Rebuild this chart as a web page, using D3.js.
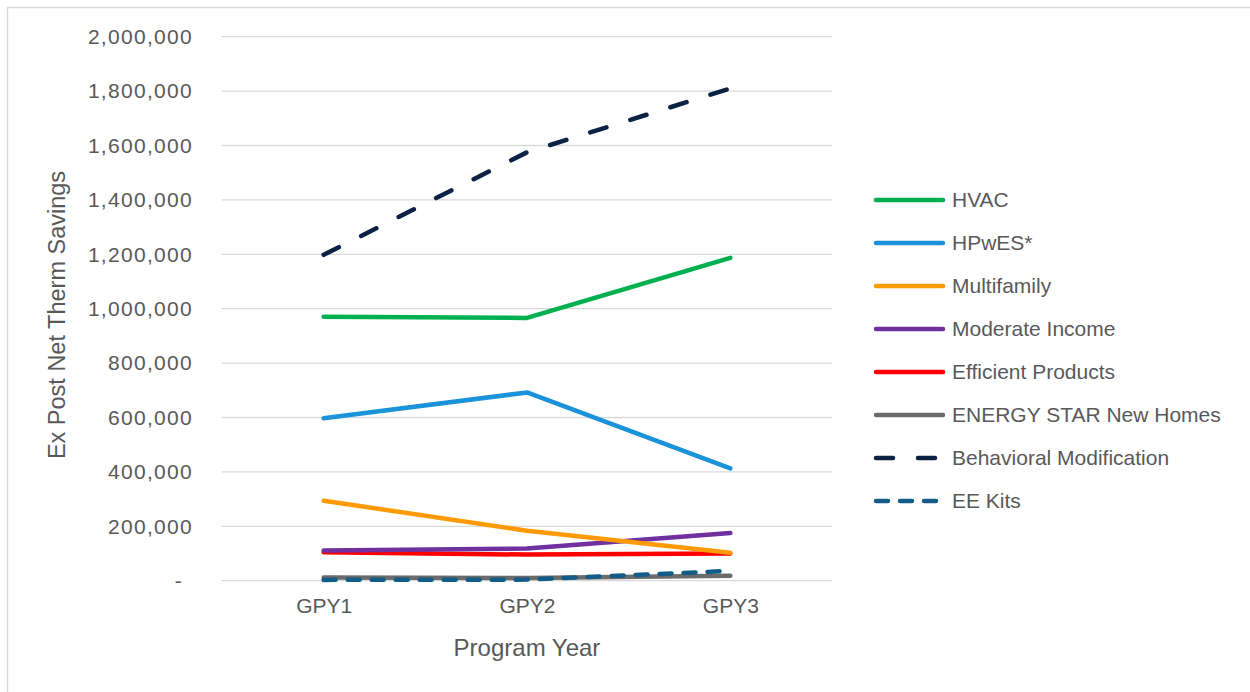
<!DOCTYPE html>
<html><head><meta charset="utf-8">
<script src="https://cdn.jsdelivr.net/npm/d3@7"></script>
<style>body{margin:0;background:#fff}svg{display:block}text{font-family:"Liberation Sans",Arial,sans-serif;fill:#595959}</style>
</head><body>
<svg id="c" width="1250" height="692"></svg>
<script>
const categories = ["GPY1", "GPY2", "GPY3"];
const seriesNames = ["HVAC", "HPwES*", "Multifamily", "Moderate Income", "Efficient Products", "ENERGY STAR New Homes", "Behavioral Modification", "EE Kits"];
const hvac = [970000, 966000, 1187000];
const hpwes = [597000, 692000, 413000];
const multifamily = [294000, 184000, 103000];
const moderateIncome = [111000, 118000, 175000];
const efficientProducts = [105000, 96000, 100000];
const energyStar = [12000, 10000, 18000];
const behavioral = [1198000, 1575000, 1810000];
const eeKits = [3000, 4000, 36000];
const yTicks = [0, 200000, 400000, 600000, 800000, 1000000, 1200000, 1400000, 1600000, 1800000, 2000000];

const colors = ["#00B050", "#1B93DA", "#FF9A00", "#7030A0", "#FF0000", "#6B6B6B", "#0B2245", "#135C88"];
const dashes = [null, null, null, null, null, null, "17,25", "12,12"];
const values = [hvac, hpwes, multifamily, moderateIncome, efficientProducts, energyStar, behavioral, eeKits];

const svg = d3.select("#c");
svg.append("path").attr("d", "M7.5,700V7.5H1260").attr("fill", "none").attr("stroke", "#D9D9D9").attr("stroke-width", 1.5);

const x = d3.scalePoint().domain(categories).range([222, 832]).padding(0.5);
const y = d3.scaleLinear().domain([0, 2000000]).range([580.7, 36.7]);

// gridlines
svg.append("g").selectAll("line").data(yTicks).join("line")
  .attr("x1", 222).attr("x2", 832)
  .attr("y1", d => y(d)).attr("y2", d => y(d))
  .attr("stroke", "#D9D9D9").attr("stroke-width", 1.3);

// y axis labels
const fmt = d3.format(",");
const yAxis = d3.axisLeft(y).tickValues(yTicks).tickSize(0).tickPadding(0)
  .tickFormat(d => d === 0 ? "-" : fmt(d));
const ga = svg.append("g").attr("transform", "translate(193,0)").call(yAxis);
ga.select(".domain").remove();
ga.selectAll("text").attr("font-size", 21).attr("fill", "#595959")
  .style("font-family", '"Liberation Sans",Arial,sans-serif')
  .attr("letter-spacing", 1.3)
  .attr("dx", d => d === 0 ? -10 : 0);

// x axis labels
const xAxis = d3.axisBottom(x).tickSize(0).tickPadding(0);
const gx = svg.append("g").attr("transform", "translate(0,598)").call(xAxis);
gx.select(".domain").remove();
gx.selectAll("text").attr("font-size", 21).attr("fill", "#595959")
  .style("font-family", '"Liberation Sans",Arial,sans-serif').attr("dy", "0.71em");

// titles
svg.append("text").attr("x", 527).attr("y", 656).attr("text-anchor", "middle").attr("font-size", 24).text("Program Year");
svg.append("text").attr("transform", "translate(65,315) rotate(-90)").attr("text-anchor", "middle").attr("font-size", 23.5).text("Ex Post Net Therm Savings");

// lines
const line = d3.line().x((d, i) => x(categories[i])).y(d => y(d));
const order = [5, 7, 4, 3, 2, 1, 0, 6];
order.forEach(k => {
  svg.append("path").datum(values[k]).attr("d", line)
    .attr("fill", "none").attr("stroke", colors[k]).attr("stroke-width", 4.5)
    .attr("stroke-linecap", "round").attr("stroke-linejoin", "round")
    .attr("stroke-dasharray", dashes[k]);
});

// legend
const lg = svg.append("g");
seriesNames.forEach((n, k) => {
  const yy = 200 + k * 43;
  lg.append("line").attr("x1", 876).attr("x2", k >= 6 ? 940 : 943).attr("y1", yy).attr("y2", yy)
    .attr("stroke", colors[k]).attr("stroke-width", 4.5).attr("stroke-linecap", "round")
    .attr("stroke-dasharray", dashes[k]);
  lg.append("text").attr("x", 952).attr("y", yy).attr("dy", "0.35em").attr("font-size", 21).text(n);
});
</script>
</body></html>
